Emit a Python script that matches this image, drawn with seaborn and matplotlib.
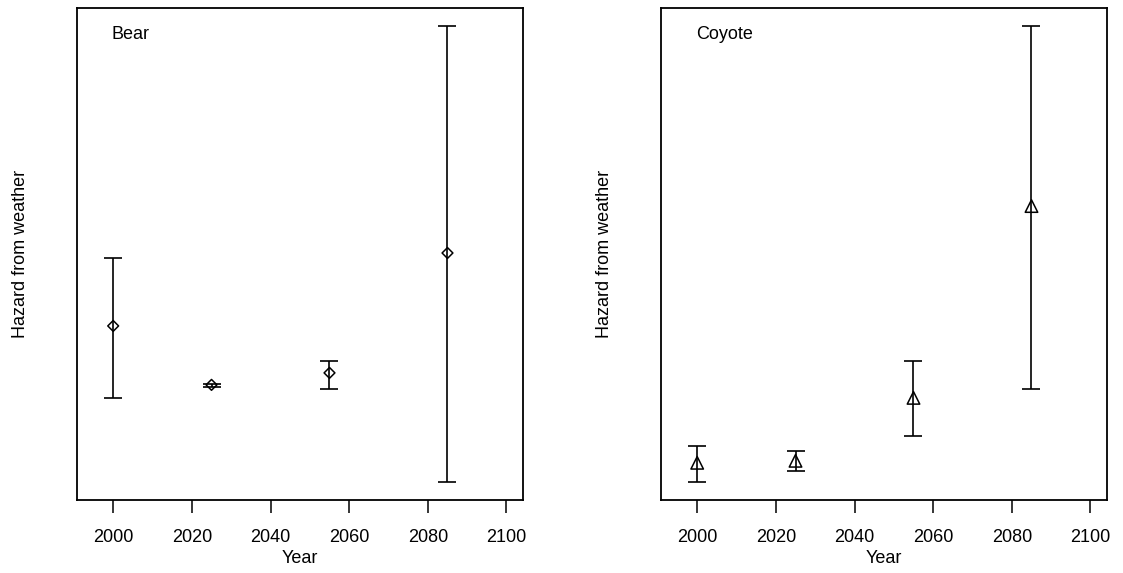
import numpy as np
import pandas as pd
import matplotlib
matplotlib.use("Agg")
import matplotlib.pyplot as plt
import seaborn as sns

# Data (arbitrary hazard units)
years = [2000, 2025, 2055, 2085]
bear_mean = [1.74, 1.15, 1.27, 2.47]
bear_lo = [1.02, 1.13, 1.11, 0.18]
bear_hi = [2.42, 1.16, 1.39, 4.74]
coy_mean = [0.37, 0.39, 1.02, 2.94]
coy_lo = [0.18, 0.29, 0.64, 1.11]
coy_hi = [0.54, 0.49, 1.39, 4.74]
panel_names = ["Bear", "Coyote"]
xticks = [2000, 2020, 2040, 2060, 2080, 2100]

sns.set_style("ticks")
plt.rcParams['font.family'] = ['Liberation Sans', 'DejaVu Sans']
plt.rcParams.update({"text.color": "black", "axes.labelcolor": "black",
                     "xtick.color": "black", "ytick.color": "black",
                     "xtick.labelcolor": "black"})

W, H = 1123, 573
fig = plt.figure(figsize=(W / 100, H / 100), dpi=100)

def px_axes(x0, x1, y0, y1):
    return fig.add_axes([x0 / W, (H - y1) / H, (x1 - x0) / W, (y1 - y0) / H])

axes = [px_axes(77, 523, 8, 500), px_axes(661, 1107, 8, 500)]
data = [
    (bear_mean, bear_lo, bear_hi, "D", 5.5),
    (coy_mean, coy_lo, coy_hi, "^", 9),
]

for ax, name, (m, lo, hi, mk, ms) in zip(axes, panel_names, data):
    df = pd.DataFrame({"Year": years, "mean": m, "lo": lo, "hi": hi})
    ax.errorbar(df["Year"], df["mean"],
                yerr=[df["mean"] - df["lo"], df["hi"] - df["mean"]],
                fmt="none", ecolor="black", elinewidth=1.2, capsize=6.5,
                capthick=1.2)
    sns.scatterplot(data=df, x="Year", y="mean", ax=ax, marker=mk, s=ms ** 2,
                    facecolor="none", edgecolor="black", linewidth=1.1,
                    zorder=5)
    ymin, ymax = min(lo), max(hi)
    r = ymax - ymin
    ax.set_ylim(ymin - 0.04 * r, ymax + 0.04 * r)
    ax.set_xlim(1990.8, 2104.2)
    ax.set_xticks(xticks)
    ax.set_xticklabels([str(t) for t in xticks], fontsize=13, color="black")
    ax.set_yticks([])
    ax.tick_params(axis="x", length=9, width=1.1, pad=12, color="black")
    for sp in ax.spines.values():
        sp.set_linewidth(1.3)
        sp.set_color("black")
    ax.set_xlabel("Year", fontsize=13, labelpad=2.5, color="black")
    ax.set_ylabel("Hazard from weather", fontsize=13, color="black")
    ax.yaxis.set_label_coords(-0.107, 0.5)
    ax.text(0.078, 0.946, name, transform=ax.transAxes, fontsize=13,
            ha="left", va="center", color="black")

fig.savefig("out.png", dpi=100)
